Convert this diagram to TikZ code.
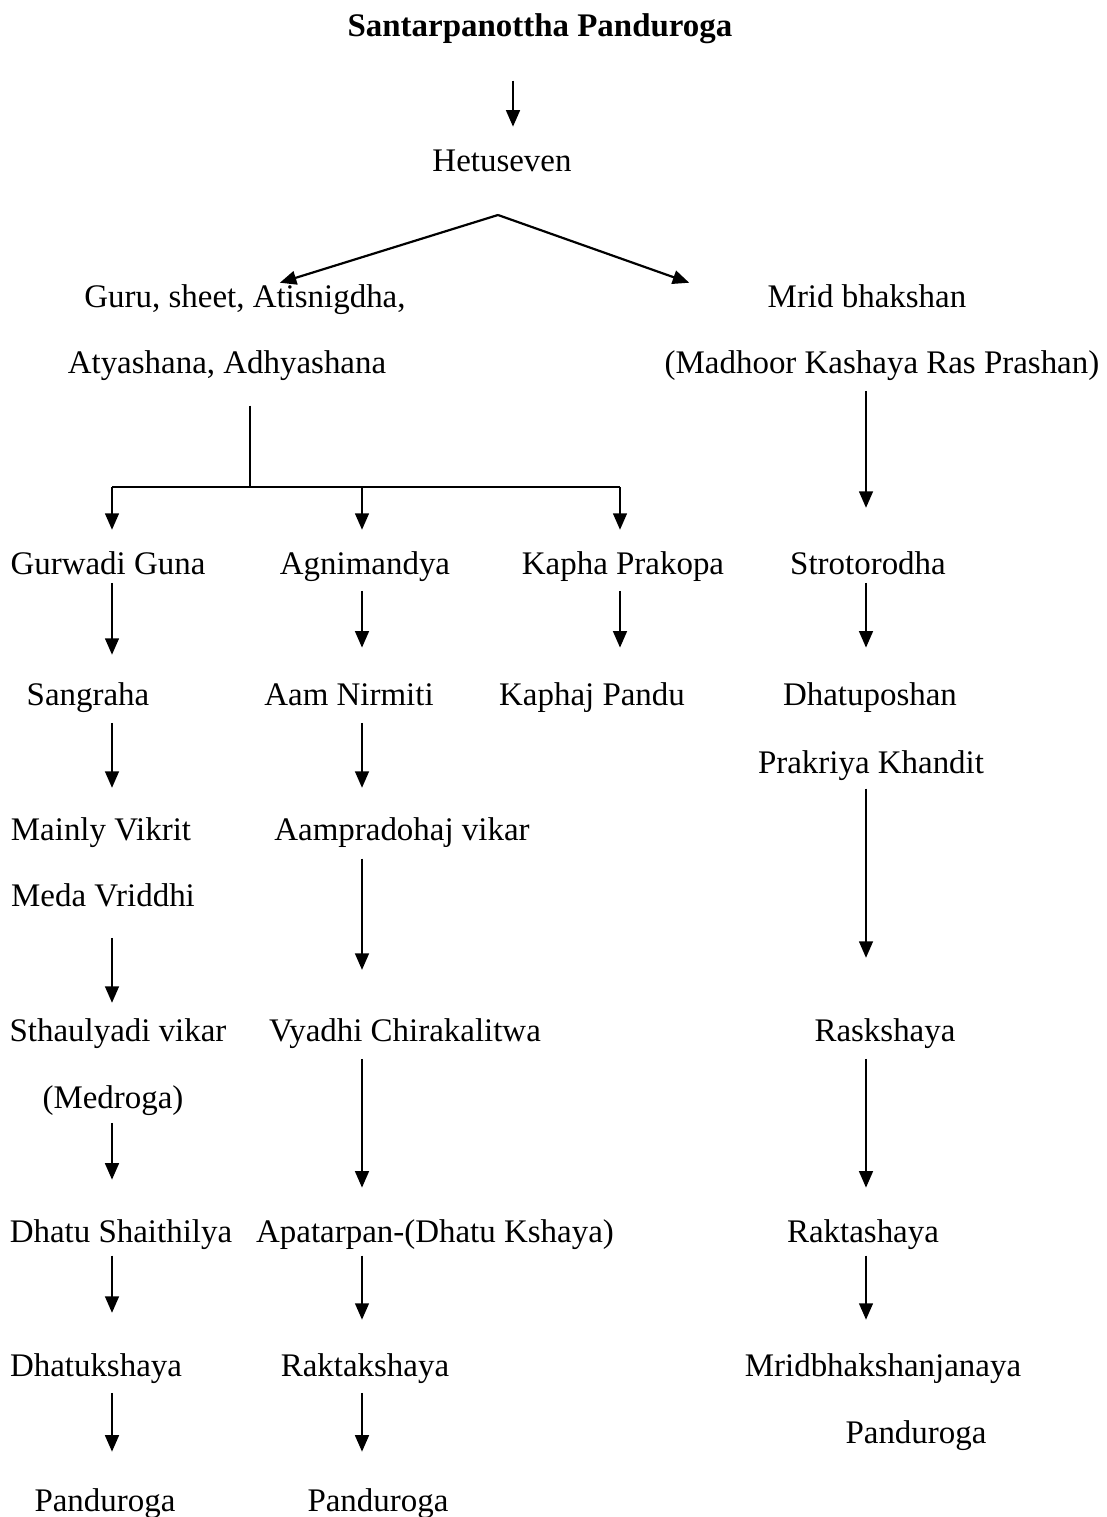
\documentclass[tikz,border=0pt]{standalone}
\usepackage{fontspec}
\setmainfont{Liberation Serif}
\usetikzlibrary{arrows.meta}
\tikzset{
	etapa/.style={
		anchor=base,
		inner sep=0pt,
		text height=9pt,
		text depth=3pt,
		font=\fontsize{12}{14}\selectfont
	},
	titulo/.style={
		etapa,
		font=\fontsize{12}{14}\selectfont\bfseries
	},
	flecha/.style={
		-{Triangle[length=6pt,width=5pt]},
		line width=0.8pt,
		black
	},
	linea/.style={
		line width=0.8pt,
		black
	}
}

\begin{document}
\begin{tikzpicture}[x=0.0128cm, y=-0.0128cm]
		\useasboundingbox (0,0) rectangle (1106,1517);
		% columnas de las flechas
		\coordinate (colT) at (513,0);
		\coordinate (colA) at (112,0);
		\coordinate (colB) at (362,0);
		\coordinate (colC) at (620,0);
		\coordinate (colD) at (866,0);
		\coordinate (hsplit) at (498,215);
		\coordinate (tronco) at (250,487);

		\node[titulo] (santar) at (540,37) {Santarpanottha Panduroga};
		\node[etapa] (hetu) at (502,172) {Hetuseven};
		\node[etapa] (guru) at (245,308) {Guru, sheet, Atisnigdha,};
		\node[etapa] (atya) at (227,373) {Atyashana, Adhyashana};
		\node[etapa] (mrid) at (867,308) {Mrid bhakshan};
		\node[etapa] (madhoor) at (882,373) {(Madhoor Kashaya Ras Prashan)};

		\node[etapa] (gurwadi) at (108,574) {Gurwadi Guna};
		\node[etapa] (agni) at (365,574) {Agnimandya};
		\node[etapa] (kapha) at (623,574) {Kapha Prakopa};
		\node[etapa] (stroto) at (868,574) {Strotorodha};

		\node[etapa] (sangraha) at (88,705) {Sangraha};
		\node[etapa] (aam) at (349,705) {Aam Nirmiti};
		\node[etapa] (kaphaj) at (592,705) {Kaphaj Pandu};
		\node[etapa] (dhatupo) at (870,705) {Dhatuposhan};
		\node[etapa] (prakriya) at (871,773) {Prakriya Khandit};

		\node[etapa] (mainly) at (101,840) {Mainly Vikrit};
		\node[etapa] (meda) at (103,906) {Meda Vriddhi};
		\node[etapa] (aampra) at (402,840) {Aampradohaj vikar};

		\node[etapa] (sthaulya) at (118,1041) {Sthaulyadi vikar};
		\node[etapa] (medroga) at (113,1108) {(Medroga)};
		\node[etapa] (vyadhi) at (405,1041) {Vyadhi Chirakalitwa};
		\node[etapa] (rasksh) at (885,1041) {Raskshaya};

		\node[etapa] (shaithil) at (121,1242) {Dhatu Shaithilya};
		\node[etapa] (apatar) at (435,1242) {Apatarpan-(Dhatu Kshaya)};
		\node[etapa] (raktash) at (863,1242) {Raktashaya};

		\node[etapa] (dhatuk) at (96,1376) {Dhatukshaya};
		\node[etapa] (raktak) at (365,1376) {Raktakshaya};
		\node[etapa] (mridbh) at (883,1376) {Mridbhakshanjanaya};
		\node[etapa] (pandR) at (916,1443) {Panduroga};

		\node[etapa] (pandA) at (105,1511) {Panduroga};
		\node[etapa] (pandB) at (378,1511) {Panduroga};

		% parte superior
		\draw[flecha, shorten <=12.7pt, shorten >=7.3pt] (santar.south -| colT) -- (hetu.north -| colT);
		\draw[flecha] (hsplit) -- ([xshift=12.7pt]guru.north);
		\draw[flecha] (hsplit) -- ([xshift=-28.4pt]mrid.north west);

		% ramas de Guru
		\draw[linea, shorten <=8.7pt] (atya.south -| tronco) -- (tronco);
		\draw[linea] (tronco -| colA) -- (tronco -| colC);
		\draw[flecha, shorten >=6.9pt] (tronco -| colA) -- (gurwadi.north -| colA);
		\draw[flecha, shorten >=6.9pt] (tronco -| colB) -- (agni.north -| colB);
		\draw[flecha, shorten >=6.9pt] (tronco -| colC) -- (kapha.north -| colC);
		\draw[flecha, shorten <=3.3pt, shorten >=14.9pt] (madhoor.south -| colD) -- (stroto.north -| colD);

		% cadenas
		\draw[flecha, shorten >=9.1pt] (gurwadi.south -| colA) -- (sangraha.north -| colA);
		\draw[flecha, shorten <=2.9pt, shorten >=11.7pt] (agni.south -| colB) -- (aam.north -| colB);
		\draw[flecha, shorten <=2.9pt, shorten >=11.7pt] (kapha.south -| colC) -- (kaphaj.north -| colC);
		\draw[flecha, shorten >=11.7pt] (stroto.south -| colD) -- (dhatupo.north -| colD);

		\draw[flecha, shorten <=3.3pt, shorten >=9.8pt] (sangraha.south -| colA) -- (mainly.north -| colA);
		\draw[flecha, shorten <=3.3pt, shorten >=9.8pt] (aam.south -| colB) -- (aampra.north -| colB);

		\draw[flecha, shorten <=8.4pt, shorten >=4.7pt] (meda.south -| colA) -- (sthaulya.north -| colA);
		\draw[flecha, shorten <=3.6pt, shorten >=16.7pt] (aampra.south -| colB) -- (vyadhi.north -| colB);
		\draw[flecha, shorten <=2.5pt, shorten >=21.1pt] (prakriya.south -| colD) -- (rasksh.north -| colD);

		\draw[flecha, shorten <=2.2pt, shorten >=13.5pt] (medroga.south -| colA) -- (shaithil.north -| colA);
		\draw[flecha, shorten <=3.3pt, shorten >=10.6pt] (vyadhi.south -| colB) -- (apatar.north -| colB);
		\draw[flecha, shorten <=3.3pt, shorten >=10.6pt] (rasksh.south -| colD) -- (raktash.north -| colD);

		\draw[flecha, shorten <=1.8pt, shorten >=13.8pt] (shaithil.south -| colA) -- (dhatuk.north -| colA);
		\draw[flecha, shorten <=1.8pt, shorten >=11.3pt] (apatar.south -| colB) -- (raktak.north -| colB);
		\draw[flecha, shorten <=1.8pt, shorten >=11.3pt] (raktash.south -| colD) -- (mridbh.north -| colD);

		\draw[flecha, shorten <=2.9pt, shorten >=12.4pt] (dhatuk.south -| colA) -- (pandA.north -| colA);
		\draw[flecha, shorten <=2.9pt, shorten >=12.4pt] (raktak.south -| colB) -- (pandB.north -| colB);
	\end{tikzpicture}
\end{document}
